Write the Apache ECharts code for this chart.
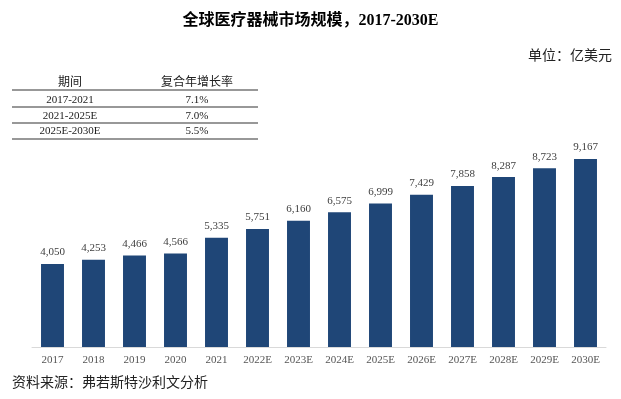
<!DOCTYPE html>
<html>
<head>
<meta charset="utf-8">
<script src="https://cdn.jsdelivr.net/npm/echarts@6/dist/echarts.min.js"></script>
<style>
  html, body { margin: 0; padding: 0; background: #fff; }
  #main { width: 621px; height: 399px; }
</style>
</head>
<body>
<div id="main"></div>
<script>
var years = ['2017', '2018', '2019', '2020', '2021', '2022E', '2023E', '2024E', '2025E', '2026E', '2027E', '2028E', '2029E', '2030E'];
var marketSize = [4050, 4253, 4466, 4566, 5335, 5751, 6160, 6575, 6999, 7429, 7858, 8287, 8723, 9167];

// 复合年增长率表
var periods = ['2017-2021', '2021-2025E', '2025E-2030E'];
var cagr = ['7.1%', '7.0%', '5.5%'];

var serif = '"Liberation Serif", "Times New Roman", "Noto Sans CJK SC", serif';

var chart = echarts.init(document.getElementById('main'));

// table drawn with graphic elements
var tableGraphics = [];
var rowY = [100, 116, 131];
var lineY = [90, 107, 123, 139];
tableGraphics.push({ type: 'text', x: 70, y: 83, style: { text: '期间', font: '12px ' + serif, fill: '#222', align: 'center', verticalAlign: 'middle' } });
tableGraphics.push({ type: 'text', x: 197, y: 83, style: { text: '复合年增长率', font: '12px ' + serif, fill: '#222', align: 'center', verticalAlign: 'middle' } });
periods.forEach(function (p, i) {
  tableGraphics.push({ type: 'text', x: 70, y: rowY[i], style: { text: p, font: '11px ' + serif, fill: '#222', align: 'center', verticalAlign: 'middle' } });
  tableGraphics.push({ type: 'text', x: 197, y: rowY[i], style: { text: cagr[i], font: '11px ' + serif, fill: '#222', align: 'center', verticalAlign: 'middle' } });
});
lineY.forEach(function (y) {
  tableGraphics.push({ type: 'line', shape: { x1: 12, y1: y, x2: 258, y2: y }, style: { stroke: '#333', lineWidth: 1.2 } });
});

var option = {
  backgroundColor: '#fff',
  animation: false,
  title: {
    text: '全球医疗器械市场规模，2017-2030E',
    left: 'center',
    top: 8,
    textStyle: { fontFamily: serif, fontSize: 16, fontWeight: 'bold', color: '#000' }
  },
  grid: { left: 32, right: 15, top: 101, bottom: 52 },
  xAxis: {
    type: 'category',
    data: years,
    axisLine: { lineStyle: { color: '#d9d9d9' } },
    axisTick: { show: false },
    axisLabel: { fontFamily: serif, fontSize: 11, color: '#555', margin: 8 }
  },
  yAxis: {
    type: 'value',
    min: 0,
    max: 12000,
    show: false,
    splitLine: { show: false }
  },
  series: [{
    type: 'bar',
    data: marketSize,
    barWidth: '56%',
    itemStyle: { color: '#1f4677' },
    label: {
      show: true,
      position: 'top',
      distance: 6,
      fontFamily: serif,
      fontSize: 11,
      color: '#404040',
      formatter: function (p) { return p.value.toLocaleString('en-US'); }
    }
  }],
  graphic: tableGraphics.concat([
    { type: 'text', right: 9, top: 49, style: { text: '单位：亿美元', font: '14px ' + serif, fill: '#222' } },
    { type: 'text', left: 12, top: 376, style: { text: '资料来源：弗若斯特沙利文分析', font: '14px ' + serif, fill: '#222' } }
  ])
};

chart.setOption(option);
</script>
</body>
</html>
